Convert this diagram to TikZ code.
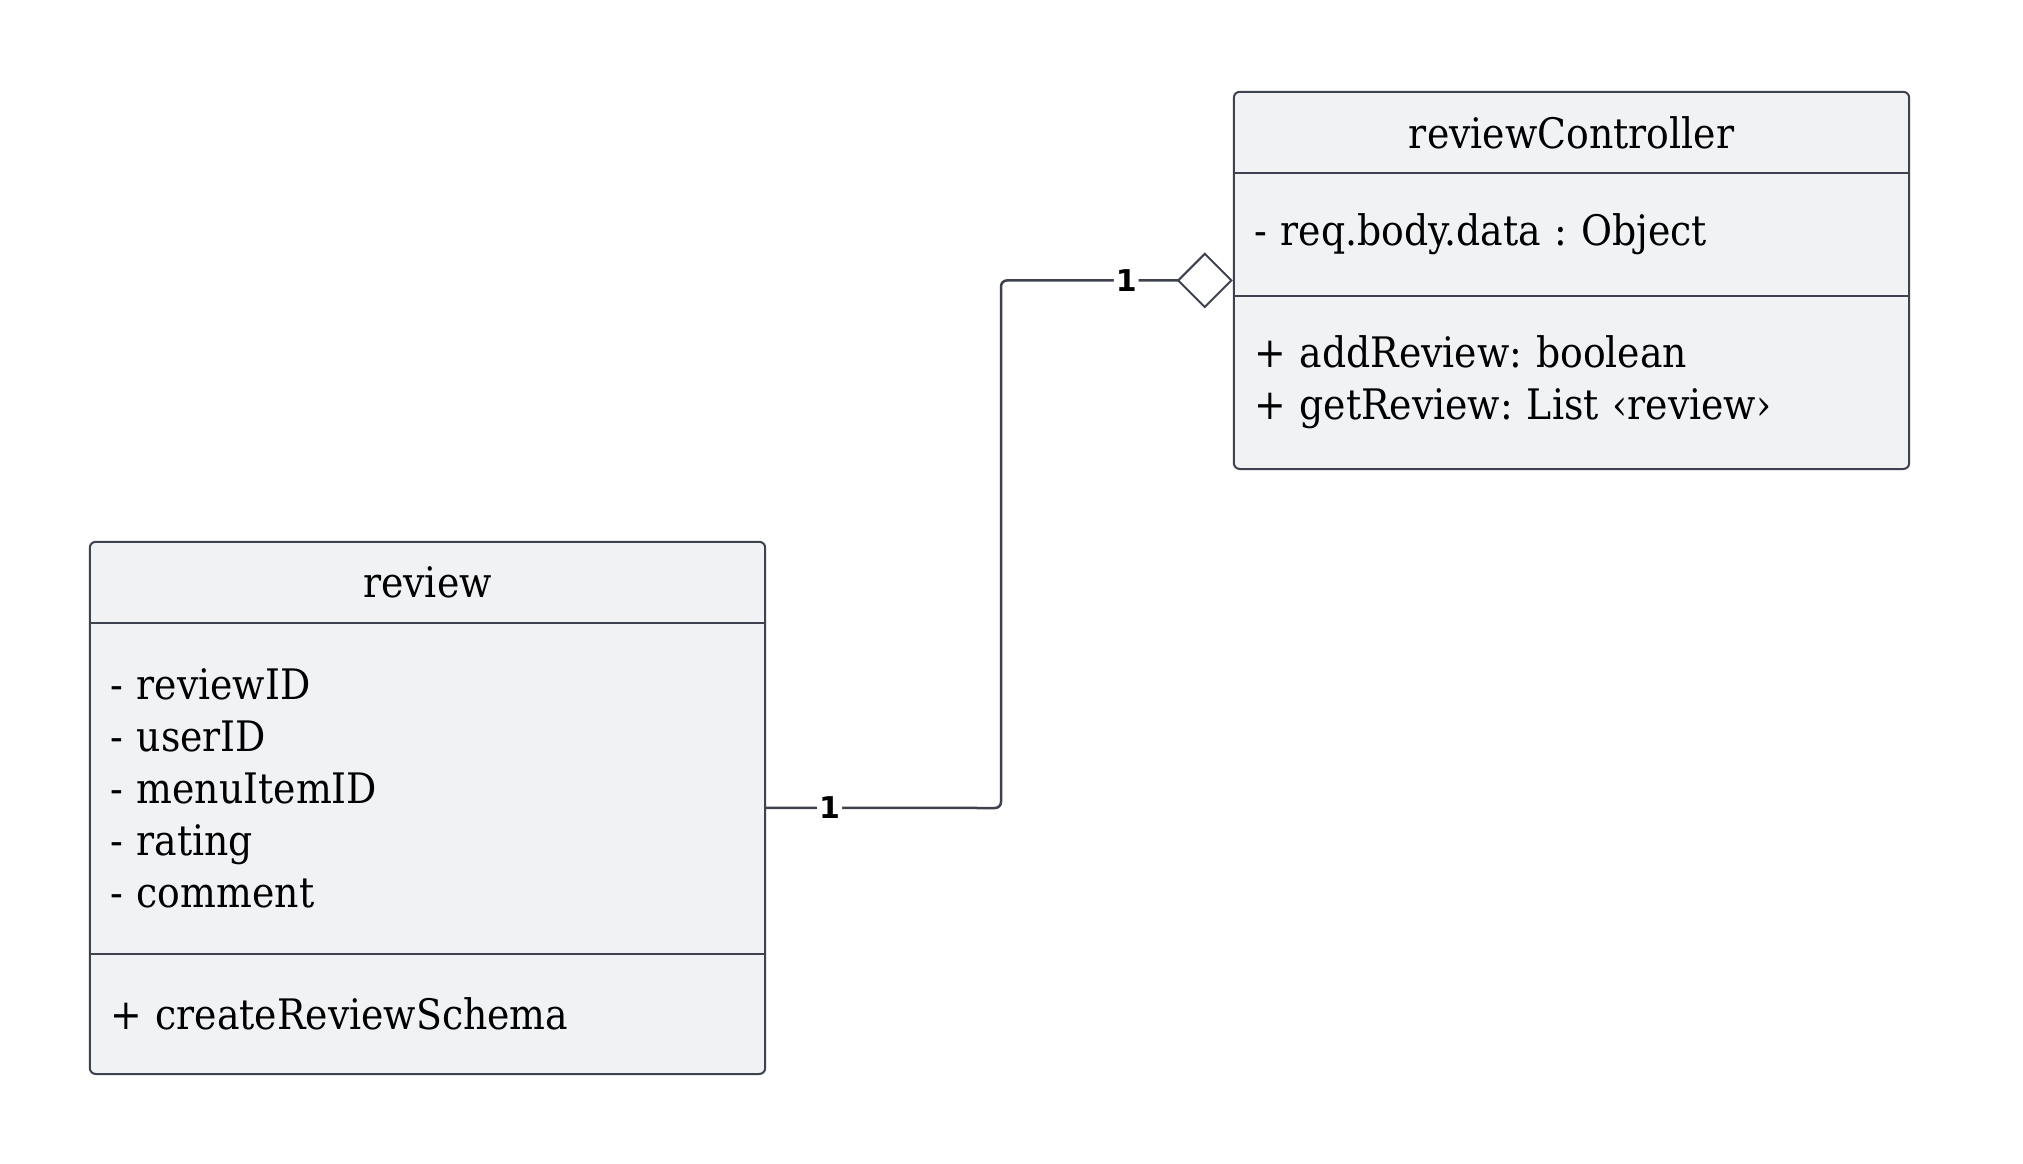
\documentclass[tikz,border=0pt]{standalone}
\usepackage{fontspec}
\setmainfont{DejaVu Serif Condensed}
\newfontfamily\multfont{DejaVu Sans}
\frenchspacing
\usetikzlibrary{arrows.meta, positioning, backgrounds, fit}
\definecolor{boxfill}{RGB}{241,242,244}
\definecolor{linegray}{RGB}{62,66,78}
\tikzstyle{head} = [rectangle, minimum width=675pt, minimum height=81pt, inner sep=0pt, text centered, font=\fontsize{42}{52}\selectfont]
\tikzstyle{part} = [rectangle, minimum width=675pt, text width=635pt, inner xsep=20pt, inner ysep=0pt, align=left, font=\fontsize{42}{52}\selectfont]
\tikzstyle{classbox} = [draw=linegray, fill=boxfill, line width=2pt, rounded corners=6pt, inner sep=0pt]
\tikzstyle{divider} = [draw=linegray, line width=2pt]
\tikzstyle{assoc} = [draw=linegray, line width=2.5pt, rounded corners=6pt, -{Diamond[open, length=56pt, width=56pt, line width=2pt]}]
\tikzstyle{mult} = [fill=white, inner sep=2pt, font=\multfont\bfseries\fontsize{30}{34}\selectfont]

\begin{document}
\begin{tikzpicture}[x=1pt, y=1pt]
	\useasboundingbox (0,0) rectangle (2023,-1164);

	% review class
	\node (rt) [head] at (427.5,-582.5) {review};
	\node (ra) [part, below=0pt of rt, minimum height=330pt] {- reviewID\\- userID\\- menuItemID\\- rating\\- comment};
	\node (rm) [part, below=0pt of ra, minimum height=120pt] {+ createReviewSchema};

	% reviewController class
	\node (ct) [head, minimum width=673pt] at (1571.5,-132.5) {reviewController};
	\node (ca) [part, below=0pt of ct, minimum width=673pt, minimum height=122pt] {- req.body.data : Object};
	\node (cm) [part, below=0pt of ca, minimum width=673pt, minimum height=173pt] {+ addReview: boolean\\+ getReview: List ‹review›};

	% Boxes
	\begin{scope}[on background layer]
		\node (review) [classbox, fit=(rt)(ra)(rm)] {};
		\node (ctrl) [classbox, fit=(ct)(ca)(cm)] {};
	\end{scope}
	\draw[divider] (rt.south west) -- (rt.south east);
	\draw[divider] (ra.south west) -- (ra.south east);
	\draw[divider] (ct.south west) -- (ct.south east);
	\draw[divider] (ca.south west) -- (ca.south east);

	% Aggregation
	\coordinate (turn) at (1001,-808);
	\draw[assoc] (review.east) -- node[mult, pos=0.27] {1} (turn) |- node[mult, pos=0.77] {1} (ctrl.west);
\end{tikzpicture}
\end{document}
